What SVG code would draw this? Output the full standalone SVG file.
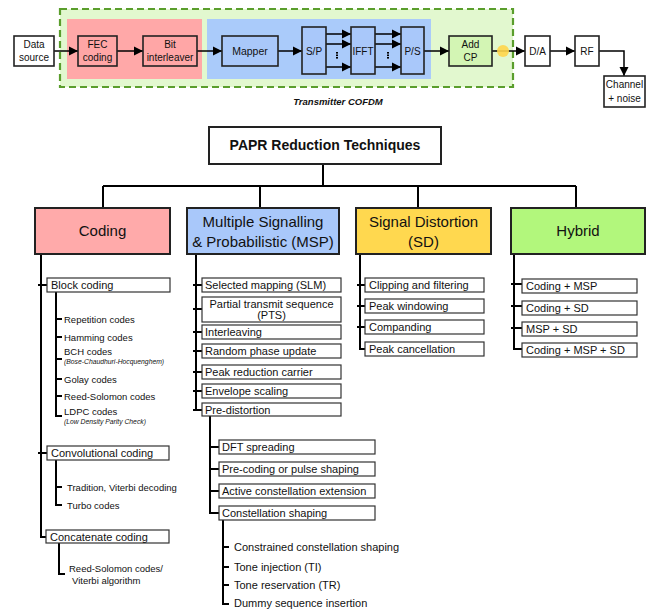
<svg xmlns="http://www.w3.org/2000/svg" width="655" height="611" viewBox="0 0 655 611">
<defs>
<marker id="ah" markerUnits="userSpaceOnUse" markerWidth="10" markerHeight="10" refX="9" refY="5" orient="auto">
<path d="M0,0.5 L9,5 L0,9.5 Z" fill="#000"/>
</marker>
<style>
text{font-family:"Liberation Sans",Arial,sans-serif;fill:#111}
.blk{fill:#fff;stroke:#222;stroke-width:1.6}
.pk{fill:#ffa6a6;stroke:#222;stroke-width:1.6}
.bl{fill:#a9c8fa;stroke:#222;stroke-width:1.6}
.gr{fill:#d3f5b4;stroke:#222;stroke-width:1.6}
.t10{font-size:10px;text-anchor:middle}
.ar{stroke:#000;stroke-width:1.5;fill:none;marker-end:url(#ah)}
.big{stroke:#222;stroke-width:2}
.t15{font-size:15px;text-anchor:middle}
.sb{fill:#fff;stroke:#333;stroke-width:1.2}
.t11{font-size:11px}
.t95{font-size:9.5px}
.it{font-size:6.8px;font-style:italic}
.ln{stroke:#000;stroke-width:2;fill:none}
</style>
</defs>

<!-- Transmitter background -->
<rect x="60" y="9" width="453" height="78" fill="#e2f8cf" stroke="#5a9e2c" stroke-width="2.2" stroke-dasharray="7,4"/>
<rect x="67" y="19" width="135" height="60" fill="#ffa8a8"/>
<rect x="207" y="19" width="224" height="60" fill="#aacbfa"/>
<text x="338" y="105" style="font-size:9.5px;font-weight:bold;font-style:italic;text-anchor:middle">Transmitter COFDM</text>

<g id="connectors-top">
<path class="ar" d="M54,51 H78"/>
<path class="ar" d="M117,51 H143"/>
<path class="ar" d="M197,51 H222"/>
<path class="ar" d="M278,51 H302"/>
<path class="ar" d="M326,34 H351"/>
<path class="ar" d="M326,44 H351"/>
<path class="ar" d="M326,67 H351"/>
<path class="ar" d="M375,34 H401"/>
<path class="ar" d="M375,44 H401"/>
<path class="ar" d="M375,67 H401"/>
<path class="ar" d="M424,51 H449"/>
<path class="ar" d="M492,51 H525"/>
<path class="ar" d="M550,51 H575"/>
<path class="ar" d="M599,51 H624 V76" stroke="#333"/>
<g fill="#000">
<rect x="336" y="52" width="2" height="1.6"/><rect x="336" y="54.5" width="2" height="1.6"/><rect x="336" y="57" width="2" height="1.6"/>
<rect x="387" y="52" width="2" height="1.6"/><rect x="387" y="54.5" width="2" height="1.6"/><rect x="387" y="57" width="2" height="1.6"/>
</g>
</g>
<circle cx="503" cy="51" r="6" fill="#ffd54a" opacity="0.9"/>

<g id="data-source"><rect class="blk" x="14" y="36" width="40" height="30"/><text class="t10" x="34" y="48">Data</text><text class="t10" x="34" y="61">source</text></g>
<g id="fec"><rect class="pk" x="78" y="36" width="39" height="30"/><text class="t10" x="97.5" y="48">FEC</text><text class="t10" x="97.5" y="61">coding</text></g>
<g id="bit-interleaver"><rect class="pk" x="143" y="36" width="54" height="30"/><text class="t10" x="170" y="48">Bit</text><text class="t10" x="170" y="61">interleaver</text></g>
<g id="mapper"><rect class="bl" x="222" y="36" width="56" height="30"/><text class="t10" x="250" y="55" style="font-size:10.5px">Mapper</text></g>
<g id="sp"><rect class="bl" x="302" y="27" width="24" height="47"/><text class="t10" x="314" y="55">S/P</text></g>
<g id="ifft"><rect class="bl" x="351" y="27" width="24" height="47"/><text class="t10" x="363" y="55">IFFT</text></g>
<g id="ps"><rect class="bl" x="401" y="27" width="23" height="47"/><text class="t10" x="412.5" y="55">P/S</text></g>
<g id="add-cp"><rect class="gr" x="449" y="36" width="43" height="30"/><text class="t10" x="470.5" y="48">Add</text><text class="t10" x="470.5" y="61">CP</text></g>
<g id="da"><rect class="blk" x="525" y="36" width="25" height="30"/><text class="t10" x="537.5" y="55">D/A</text></g>
<g id="rf"><rect class="blk" x="575" y="36" width="24" height="30"/><text class="t10" x="587" y="55">RF</text></g>
<g id="channel"><rect class="blk" x="604" y="76" width="41" height="31"/><text class="t10" x="624.5" y="88">Channel</text><text class="t10" x="624.5" y="102">+ noise</text></g>

<!-- Tree connectors -->
<g id="connectors-tree" class="ln">
<path d="M323,164 V186 M103,186 H576 M103,186 V208 M260,186 V208 M418,186 V208 M576,186 V208"/>
<!-- coding -->
<path d="M41,254 V537 H46 M38,285 H47 M38,453 H47"/>
<path d="M56,292 V416 H62 M56,319 H62 M56,337 H62 M56,359 H62 M56,379 H62 M56,396 H62"/>
<path d="M56,460 V505 H62 M56,487 H62"/>
<path d="M59,543 V574 H65"/>
<!-- MSP -->
<path d="M196,254 V410 M193,285 H202 M193,309 H202 M193,332 H202 M193,351 H202 M193,372 H202 M193,391 H202 M193,410 H202"/>
<path d="M210,416 V513 H219 M210,447 H219 M210,469 H219 M210,491 H219"/>
<path d="M223,520 V604 H229 M223,547 H229 M223,567 H229 M223,585 H229"/>
<!-- SD -->
<path d="M360,254 V349 H365 M357,285 H365 M357,306 H365 M357,327 H365"/>
<!-- Hybrid -->
<path d="M514,254 V349 H522 M511,284 H522 M511,306 H522 M511,328 H522"/>
</g>

<g id="papr"><rect x="209" y="127" width="232" height="37" fill="#fff" stroke="#222" stroke-width="2"/><text x="325" y="150" style="font-size:14px;font-weight:bold;text-anchor:middle">PAPR Reduction Techniques</text></g>
<g id="coding"><rect class="big" x="35" y="208" width="135" height="46" fill="#ffaaaa"/><text class="t15" x="102.5" y="236">Coding</text></g>
<g id="msp"><rect class="big" x="187" y="208" width="152" height="46" fill="#a9c8fa"/><text class="t15" x="263" y="227">Multiple Signalling</text><text class="t15" x="263" y="247">&amp; Probabilistic (MSP)</text></g>
<g id="sd"><rect class="big" x="356" y="208" width="135" height="46" fill="#ffd84f"/><text class="t15" x="423.5" y="227">Signal Distortion</text><text class="t15" x="423.5" y="247">(SD)</text></g>
<g id="hybrid"><rect class="big" x="511" y="208" width="134" height="46" fill="#b2f77c"/><text class="t15" x="578" y="236">Hybrid</text></g>

<!-- Coding subtree -->
<g id="block-coding"><rect class="sb" x="47" y="278" width="123" height="14"/><text class="t11" x="51" y="289">Block coding</text></g>
<g id="repetition"><text class="t95" x="64" y="322.5">Repetition codes</text></g>
<g id="hamming"><text class="t95" x="64" y="340.5">Hamming codes</text></g>
<g id="bch"><text class="t95" x="64" y="355">BCH codes</text><text class="it" x="64" y="364">(Bose-Chaudhuri-Hocquenghem)</text></g>
<g id="golay"><text class="t95" x="64" y="382.5">Golay codes</text></g>
<g id="reed-solomon"><text class="t95" x="64" y="399.5">Reed-Solomon codes</text></g>
<g id="ldpc"><text class="t95" x="64" y="415">LDPC codes</text><text class="it" x="64" y="424">(Low Density Parity Check)</text></g>
<g id="convolutional"><rect class="sb" x="47" y="446" width="122" height="14"/><text class="t11" x="51" y="457">Convolutional coding</text></g>
<g id="tradition"><text class="t95" x="67" y="490.5">Tradition, Viterbi decoding</text></g>
<g id="turbo"><text class="t95" x="67" y="508.5">Turbo codes</text></g>
<g id="concatenate"><rect class="sb" x="46" y="530" width="123" height="13"/><text class="t11" x="50" y="541">Concatenate coding</text></g>
<g id="rs-viterbi"><text class="t95" x="69" y="572">Reed-Solomon codes/</text><text class="t95" x="72" y="583.5">Viterbi algorithm</text></g>

<!-- MSP subtree -->
<g id="slm"><rect class="sb" x="202" y="278" width="139" height="14"/><text class="t11" x="205" y="289">Selected mapping (SLM)</text></g>
<g id="pts"><rect class="sb" x="202" y="297" width="139" height="25"/><text class="t11" x="271.5" y="307.5" text-anchor="middle">Partial transmit sequence</text><text class="t11" x="271.5" y="319" text-anchor="middle">(PTS)</text></g>
<g id="interleaving"><rect class="sb" x="202" y="325" width="139" height="14"/><text class="t11" x="205" y="336">Interleaving</text></g>
<g id="rpu"><rect class="sb" x="202" y="344" width="139" height="14"/><text class="t11" x="205" y="355">Random phase update</text></g>
<g id="prc"><rect class="sb" x="202" y="365" width="139" height="14"/><text class="t11" x="205" y="376">Peak reduction carrier</text></g>
<g id="envelope"><rect class="sb" x="202" y="384" width="139" height="14"/><text class="t11" x="205" y="395">Envelope scaling</text></g>
<g id="predistortion"><rect class="sb" x="202" y="403" width="139" height="13"/><text class="t11" x="205" y="413.5">Pre-distortion</text></g>
<g id="dft"><rect class="sb" x="219" y="440" width="156" height="14"/><text class="t11" x="222" y="451">DFT spreading</text></g>
<g id="precoding"><rect class="sb" x="219" y="462" width="156" height="14"/><text class="t11" x="222" y="473">Pre-coding or pulse shaping</text></g>
<g id="ace"><rect class="sb" x="219" y="484" width="156" height="14"/><text class="t11" x="222" y="495">Active constellation extension</text></g>
<g id="cs"><rect class="sb" x="219" y="506" width="156" height="14"/><text class="t11" x="222" y="517">Constellation shaping</text></g>
<g id="ccs"><text class="t11" x="234" y="551">Constrained constellation shaping</text></g>
<g id="ti"><text class="t11" x="234" y="571">Tone injection (TI)</text></g>
<g id="tr"><text class="t11" x="234" y="589">Tone reservation (TR)</text></g>
<g id="dsi"><text class="t11" x="234" y="607">Dummy sequence insertion</text></g>

<!-- SD subtree -->
<g id="clipping"><rect class="sb" x="365" y="278" width="119" height="14"/><text class="t11" x="369" y="289">Clipping and filtering</text></g>
<g id="windowing"><rect class="sb" x="365" y="299" width="119" height="14"/><text class="t11" x="369" y="310">Peak windowing</text></g>
<g id="companding"><rect class="sb" x="365" y="320" width="119" height="14"/><text class="t11" x="369" y="331">Companding</text></g>
<g id="cancellation"><rect class="sb" x="365" y="342" width="119" height="14"/><text class="t11" x="369" y="353">Peak cancellation</text></g>

<!-- Hybrid subtree -->
<g id="c-msp"><rect class="sb" x="522" y="279" width="115" height="14"/><text class="t11" x="526" y="290">Coding + MSP</text></g>
<g id="c-sd"><rect class="sb" x="522" y="301" width="115" height="14"/><text class="t11" x="526" y="312">Coding + SD</text></g>
<g id="msp-sd"><rect class="sb" x="522" y="322" width="115" height="14"/><text class="t11" x="526" y="333">MSP + SD</text></g>
<g id="c-msp-sd"><rect class="sb" x="522" y="343" width="115" height="14"/><text class="t11" x="526" y="354">Coding + MSP + SD</text></g>
</svg>
